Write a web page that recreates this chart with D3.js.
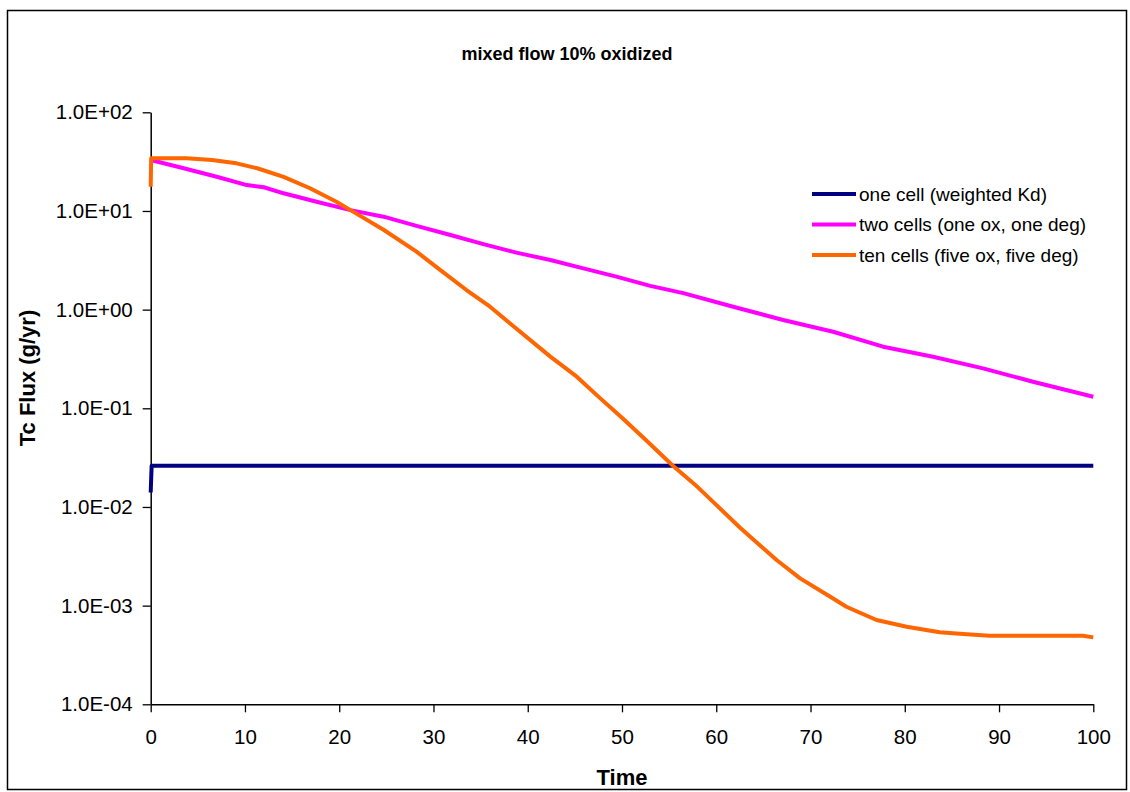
<!DOCTYPE html>
<html>
<head>
<meta charset="utf-8">
<script src="https://cdn.jsdelivr.net/npm/d3@7"></script>
<style>
  body { margin: 0; background: #fff; }
  svg { display: block; font-family: Arial, "Liberation Sans", sans-serif; }
  .line { fill: none; stroke-width: 4px; stroke-linejoin: round; }
</style>
</head>
<body>
<svg id="chart" width="1130" height="792"></svg>
<script>
// series
var blueTime = [0, 0.1, 100];
var blueFlux = [0.014, 0.0262, 0.0262];

var pinkTime = [0, 3.5, 7.0, 10.2, 12.0, 14.1, 17.6, 21.2, 24.7, 28.2, 31.8, 35.3, 38.8, 42.4, 45.9,
                49.4, 53.0, 56.5, 61.8, 67.1, 72.4, 77.7, 83.0, 88.3, 93.6, 100];
var pinkFlux = [32.9, 27.1, 22.2, 18.3, 17.4, 15.1, 12.4, 10.2, 8.75, 7.05, 5.71, 4.62, 3.78, 3.18, 2.62,
                2.16, 1.74, 1.47, 1.07, 0.785, 0.597, 0.421, 0.333, 0.254, 0.186, 0.131];

var orangeTime = [0, 0.05, 3.8, 6.5, 9.1, 11.3, 14.1, 16.9, 19.7, 21.2, 24.7, 28.2, 30.7, 33.5, 36.0,
                  38.1, 42.4, 45.2, 47.7, 50, 52.5, 55.4, 58, 60, 62.5, 64.5, 66.4, 68.9, 72.1, 73.8,
                  77.0, 80.2, 83.7, 86.2, 89.0, 98.9, 100];
var orangeFlux = [17.6, 34.2, 34.2, 32.9, 30.4, 27.1, 22.2, 17.0, 12.4, 10.2, 6.45, 3.87, 2.53, 1.58, 1.07,
                  0.728, 0.334, 0.209, 0.126, 0.08, 0.048, 0.0262, 0.016, 0.0105, 0.0062, 0.0042, 0.0029,
                  0.00189, 0.00123, 0.000975, 0.000715, 0.000612, 0.000537, 0.000516, 0.000496, 0.000496,
                  0.000477];

var seriesNames = ["one cell (weighted Kd)", "two cells (one ox, one deg)", "ten cells (five ox, five deg)"];
var seriesColors = ["#000080", "#ff00ff", "#ff6600"];

var xTicks = [0, 10, 20, 30, 40, 50, 60, 70, 80, 90, 100];
var yTicks = [1e-4, 1e-3, 1e-2, 1e-1, 1e0, 1e1, 1e2];

var svg = d3.select("#chart");
var plot = {left: 150.7, right: 1093.3, top: 112.3, bottom: 704.3};

// chart frame
svg.append("rect")
    .attr("x", 7.5).attr("y", 10.5)
    .attr("width", 1119).attr("height", 779)
    .attr("fill", "#fff").attr("stroke", "#000").attr("stroke-width", 1.5);

var x = d3.scaleLinear().domain([0, 100]).range([plot.left, plot.right]);
var y = d3.scaleLog().domain([1e-4, 1e2]).range([plot.bottom, plot.top]);

function sci(d) {
    var e = Math.round(Math.log10(d));
    var s = Math.abs(e) < 10 ? "0" + Math.abs(e) : "" + Math.abs(e);
    return "1.0E" + (e < 0 ? "-" : "+") + s;
}

var yAxis = svg.append("g")
    .attr("transform", "translate(" + plot.left + ",0)")
    .call(d3.axisLeft(y).tickValues(yTicks).tickFormat(sci).tickSize(8).tickPadding(10).tickSizeOuter(0));

var xAxis = svg.append("g")
    .attr("transform", "translate(0," + plot.bottom + ")")
    .call(d3.axisBottom(x).tickValues(xTicks).tickFormat(d3.format("d")).tickSize(8).tickPadding(17).tickSizeOuter(0));

svg.selectAll(".tick text").attr("font-size", 20.5).attr("fill", "#000")
    .attr("font-family", "Arial, 'Liberation Sans', sans-serif");
svg.selectAll(".domain").attr("stroke", "#000").attr("stroke-width", 1.5);
svg.selectAll(".tick line").attr("stroke", "#000").attr("stroke-width", 1.3);

// lines, blue first so orange lands on top
var line = d3.line()
    .x(function(d) { return x(d[0]); })
    .y(function(d) { return y(d[1]); });

var series = [
    d3.zip(blueTime, blueFlux),
    d3.zip(pinkTime, pinkFlux),
    d3.zip(orangeTime, orangeFlux)
];

svg.append("g").selectAll("path")
    .data(series)
    .enter().append("path")
    .attr("class", "line")
    .attr("stroke", function(d, i) { return seriesColors[i]; })
    .attr("d", line);

// legend
var legend = svg.append("g").attr("transform", "translate(812,194)");
var rows = legend.selectAll("g")
    .data(seriesNames)
    .enter().append("g")
    .attr("transform", function(d, i) { return "translate(0," + (i * 30.5) + ")"; });
rows.append("line")
    .attr("x1", 0).attr("x2", 44)
    .attr("stroke", function(d, i) { return seriesColors[i]; })
    .attr("stroke-width", 4);
rows.append("text")
    .attr("x", 47).attr("dy", "0.35em")
    .attr("font-size", 19)
    .text(function(d) { return d; });

// titles
svg.append("text")
    .attr("x", 567).attr("y", 60)
    .attr("text-anchor", "middle")
    .attr("font-size", 18).attr("font-weight", "bold")
    .text("mixed flow 10% oxidized");

svg.append("text")
    .attr("x", (plot.left + plot.right) / 2).attr("y", 785)
    .attr("text-anchor", "middle")
    .attr("font-size", 22).attr("font-weight", "bold")
    .text("Time");

svg.append("text")
    .attr("transform", "translate(35," + 378 + ") rotate(-90)")
    .attr("text-anchor", "middle")
    .attr("font-size", 22).attr("font-weight", "bold")
    .text("Tc Flux (g/yr)");
</script>
</body>
</html>
